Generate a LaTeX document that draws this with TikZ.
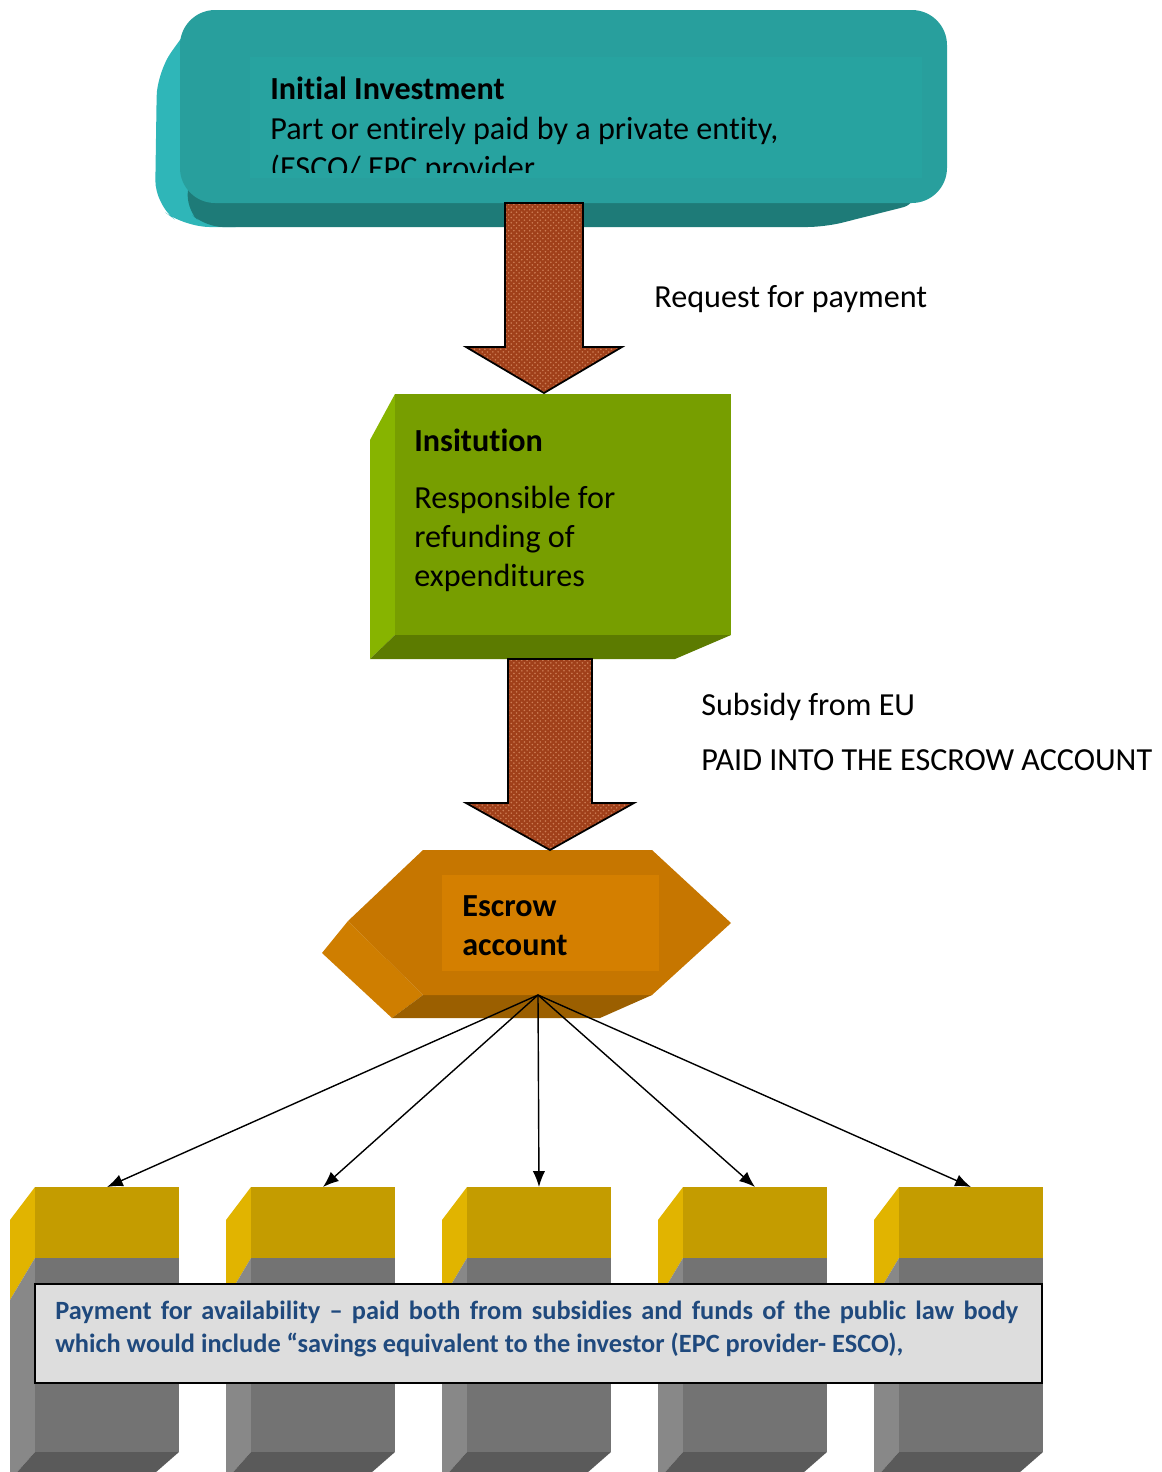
\documentclass[tikz,border=0pt]{standalone}
\usepackage{fontspec}
\setmainfont{Carlito}[Ligatures=NoCommon]
\usetikzlibrary{patterns,arrows.meta,positioning}
\definecolor{tealfront}{RGB}{40,159,157}
\definecolor{tealinner}{RGB}{39,163,160}
\definecolor{tealleft}{RGB}{47,182,184}
\definecolor{tealbottom}{RGB}{30,123,120}
\definecolor{greenfront}{RGB}{119,158,0}
\definecolor{greenleft}{RGB}{135,180,0}
\definecolor{greenbottom}{RGB}{92,123,0}
\definecolor{escfront}{RGB}{198,118,0}
\definecolor{escinner}{RGB}{212,127,0}
\definecolor{escleft}{RGB}{207,126,0}
\definecolor{escbottom}{RGB}{155,95,0}
\definecolor{goldfront}{RGB}{196,156,0}
\definecolor{goldleft}{RGB}{225,180,0}
\definecolor{grayfront}{RGB}{115,115,115}
\definecolor{grayleft}{RGB}{136,136,136}
\definecolor{graybottom}{RGB}{90,90,90}
\definecolor{capfill}{RGB}{221,221,221}
\definecolor{captext}{RGB}{31,73,125}
\definecolor{arrowbrown}{RGB}{160,64,26}
\definecolor{arrowdot}{RGB}{205,125,85}

\begin{document}
\begin{tikzpicture}[x=0.02cm, y=-0.02cm,
    lbl/.style={inner sep=0, font=\fontsize{18.3}{22.1}\selectfont, anchor=base west},
    body/.style={inner sep=0, font=\fontsize{18.3}{22.1}\selectfont, anchor=north west, align=left},
    bigarrow/.style={draw=black, line width=1pt, preaction={fill=arrowbrown},
                     pattern=crosshatch dots, pattern color=arrowdot},
    conn/.style={-{Latex[length=9pt,width=7pt]}, line width=0.8pt},
    capbox/.style={draw=black, line width=1.2pt, fill=capfill},
    captxt/.style={inner sep=0, anchor=north west, text width=548pt, align=justify,
                   font=\fontsize{15}{18.7}\selectfont\bfseries, text=captext}
]
    \useasboundingbox (0,0) rectangle (1162,1472);
    \clip (0,0) rectangle (1162,1472);

    % Initial investment box
    \fill[tealleft, rounded corners=14pt] (200,12) -- (157,72) -- (155,205) -- (185,227) -- (260,227) -- (260,12) -- cycle;
    \fill[tealbottom, rounded corners=10pt] (195,150) -- (185,208) -- (205,227) -- (825,227) -- (920,203) -- (900,150) -- cycle;
    \fill[tealfront, rounded corners=20pt] (180,10) rectangle (947,203);
    \fill[tealinner] (250,57) rectangle (922,178);
    \node[lbl, font=\fontsize{18.3}{22.1}\selectfont\bfseries] (invtitle) at (270,99) {Initial Investment};
    \begin{scope}
        \clip (250,57) rectangle (922,172);
        \node[body] (invtext) at (270,117) {Part or entirely paid by a private entity,\\ (ESCO/ EPC provider};
    \end{scope}

    % Institution box
    \fill[greenleft] (395,394) -- (370,440) -- (370,659) -- (395,635) -- cycle;
    \fill[greenbottom] (370,659) -- (395,635) -- (731,635) -- (675,659) -- cycle;
    \fill[greenfront] (395,394) rectangle (731,635);
    \node[lbl, font=\fontsize{18.3}{22.1}\selectfont\bfseries] (insttitle) at (414,451) {Insitution};
    \node[body] (insttext) at (414,486) {Responsible for\\ refunding of\\ expenditures};

    % Escrow account
    \fill[escleft] (348,921) -- (322,953) -- (392,1018) -- (423,995) -- cycle;
    \fill[escbottom] (423,995) -- (392,1018) -- (600,1018) -- (652,995) -- cycle;
    \fill[escfront] (423,850) -- (652,850) -- (731,923) -- (652,995) -- (423,995) -- (348,921) -- cycle;
    \fill[escinner] (442,875) rectangle (659,971);
    \node[body, font=\fontsize{18.3}{22.1}\selectfont\bfseries] (escrow) at (462,895) {Escrow\\ account};
    \coordinate (escout) at (538,995);

    % Block arrows
    \draw[bigarrow] (505,203) -- (583,203) -- (583,347) -- (622,347) -- (544,393) -- (466,347) -- (505,347) -- cycle;
    \draw[bigarrow] (508,659) -- (592,659) -- (592,803) -- (634,803) -- (550,850) -- (466,803) -- (508,803) -- cycle;

    % Labels
    \node[lbl] (request) at (654,307) {Request for payment};
    \node[lbl] (subsidy) at (701,715) {Subsidy from EU};
    \node[lbl] (paid) at (701,770) {PAID INTO THE ESCROW ACCOUNT};

    % Columns
    \foreach \i in {1,...,5} {
        \pgfmathsetmacro{\xo}{35+216*(\i-1)}
        \fill[goldleft] (\xo,1187) -- ({\xo-25},1220) -- ({\xo-25},1300) -- (\xo,1258) -- cycle;
        \fill[grayleft] ({\xo-25},1300) -- (\xo,1258) -- (\xo,1452) -- ({\xo-25},1480) -- cycle;
        \fill[goldfront] (\xo,1187) rectangle ({\xo+144},1258);
        \fill[grayfront] (\xo,1258) rectangle ({\xo+144},1452);
        \fill[graybottom] (\xo,1452) -- ({\xo+144},1452) -- ({\xo+112},1480) -- ({\xo-25},1480) -- cycle;
        \coordinate (col\i) at ({\xo+72},1187);
        \draw[conn] (escout) -- (col\i);
    }

    % Payment caption
    \draw[capbox] (35,1284) rectangle (1042,1383);
    \node[captxt] (payment) at (55,1301) {Payment for availability – paid both from subsidies and funds of the public law body\linebreak which would include “savings equivalent to the investor (EPC provider- ESCO),};
\end{tikzpicture}
\end{document}
